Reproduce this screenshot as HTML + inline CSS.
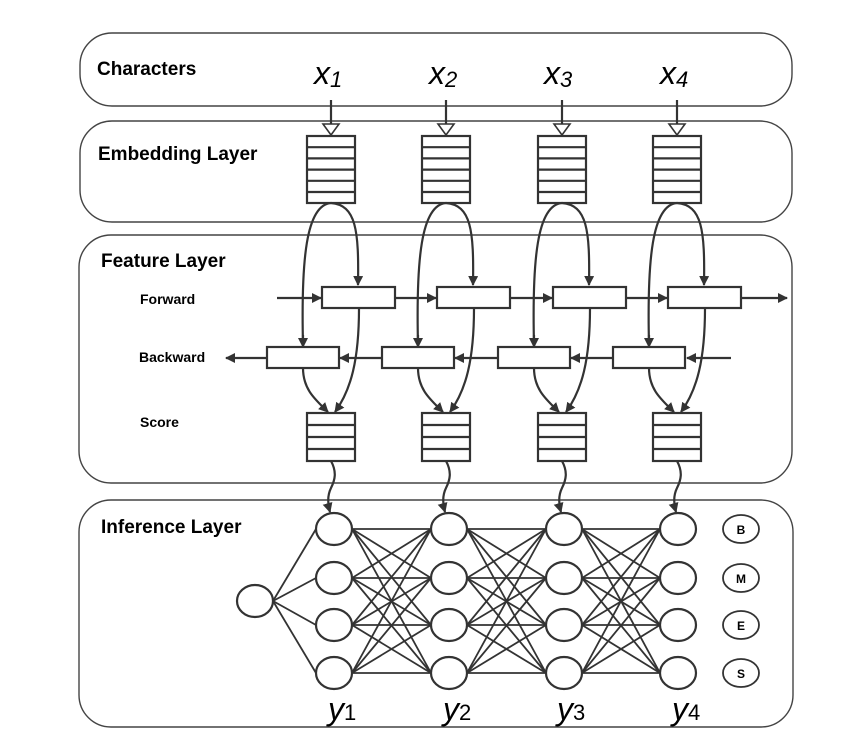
<!DOCTYPE html>
<html><head><meta charset="utf-8"><style>
html,body{margin:0;padding:0;background:#fff;}
svg{display:block;}
.t{font-family:"Liberation Sans",sans-serif;font-weight:bold;fill:#000;}
</style></head><body>
<svg id="s" width="863" height="753" viewBox="0 0 863 753" xmlns="http://www.w3.org/2000/svg">
<defs>
<marker id="a" markerWidth="10" markerHeight="10" refX="9" refY="5" orient="auto" markerUnits="userSpaceOnUse"><path d="M0,0 L10,5 L0,10 z" fill="#333"/></marker>
</defs>
<g fill="none" stroke="#444" stroke-width="1.4">
<rect x="80" y="33" width="712" height="73" rx="32"/>
<rect x="80" y="121" width="712" height="101" rx="32"/>
<rect x="79" y="235" width="713" height="248" rx="32"/>
<rect x="79" y="500" width="714" height="227" rx="32"/>
</g>
<text class="t" x="97" y="75" font-size="19">Characters</text>
<text class="t" x="98" y="160" font-size="19">Embedding Layer</text>
<text class="t" x="101" y="267" font-size="19">Feature Layer</text>
<text class="t" x="140" y="304" font-size="14">Forward</text>
<text class="t" x="139" y="362" font-size="14">Backward</text>
<text class="t" x="140" y="427" font-size="14">Score</text>
<text class="t" x="101" y="533" font-size="19">Inference Layer</text>
<g font-family="Liberation Sans,sans-serif" font-style="italic" font-size="32" fill="#000">
<text x="314" y="84">x<tspan font-size="22" dy="3">1</tspan></text>
<text x="429" y="84">x<tspan font-size="22" dy="3">2</tspan></text>
<text x="544" y="84">x<tspan font-size="22" dy="3">3</tspan></text>
<text x="660" y="84">x<tspan font-size="22" dy="3">4</tspan></text>
</g>
<g font-family="Liberation Sans,sans-serif" font-size="32" fill="#000">
<text x="328" y="720" font-style="italic">y<tspan font-style="normal" font-size="22">1</tspan></text>
<text x="443" y="720" font-style="italic">y<tspan font-style="normal" font-size="22">2</tspan></text>
<text x="557" y="720" font-style="italic">y<tspan font-style="normal" font-size="22">3</tspan></text>
<text x="672" y="720" font-style="italic">y<tspan font-style="normal" font-size="22">4</tspan></text>
</g>
<g id="g" fill="none" stroke="#333" stroke-width="2.2"></g>
<g font-family="Liberation Sans,sans-serif" font-weight="bold" font-size="12" text-anchor="middle" fill="#000">
<ellipse cx="741" cy="529" rx="18" ry="14" fill="none" stroke="#333" stroke-width="1.8"/><text x="741" y="534">B</text>
<ellipse cx="741" cy="578" rx="18" ry="14" fill="none" stroke="#333" stroke-width="1.8"/><text x="741" y="583">M</text>
<ellipse cx="741" cy="625" rx="18" ry="14" fill="none" stroke="#333" stroke-width="1.8"/><text x="741" y="630">E</text>
<ellipse cx="741" cy="673" rx="18" ry="14" fill="none" stroke="#333" stroke-width="1.8"/><text x="741" y="678">S</text>
</g>
</svg>
<script>
var h='';
var cx=[331,446,562,677];
var nx=[334,449,564,678];
var ny=[529,578,625,673];
function L(x1,y1,x2,y2,m){h+='<line x1="'+x1+'" y1="'+y1+'" x2="'+x2+'" y2="'+y2+'"'+(m?' marker-end="url(#a)"':'')+'/>';}
function P(d,m){h+='<path d="'+d+'"'+(m?' marker-end="url(#a)"':'')+'/>';}
for(var i=0;i<4;i++){
 var c=cx[i];
 L(c,100,c,126);
 h+='<path d="M'+(c-8)+',124 L'+(c+8)+',124 L'+c+',135 z" fill="#fff" stroke-width="1.6"/>';
 h+='<rect x="'+(c-24)+'" y="136" width="48" height="67" fill="#fff"/>';
 for(var k=1;k<6;k++){L(c-24,136+k*11.2,c+24,136+k*11.2);}
 P('M'+(c-28)+',345 C'+(c-30)+',260 '+(c-25)+',205 '+c+',203',false);
 h+='<line x1="'+(c-28)+'" y1="335" x2="'+(c-28)+'" y2="347" marker-end="url(#a)"/>';
 P('M'+c+',203 C'+(c+25)+',205 '+(c+28)+',230 '+(c+27)+',285',true);
 var fx=c-9;
 h+='<rect x="'+fx+'" y="287" width="73" height="21" fill="#fff"/>';
 var bx=c-64;
 h+='<rect x="'+bx+'" y="347" width="72" height="21" fill="#fff"/>';
 P('M'+(c+28)+',308 C'+(c+28)+',360 '+(c+20)+',390 '+(c+4)+',412',true);
 P('M'+(c-28)+',368 C'+(c-28)+',390 '+(c-15)+',400 '+(c-3)+',412',true);
 h+='<rect x="'+(c-24)+'" y="413" width="48" height="48" fill="#fff"/>';
 for(var k=1;k<4;k++){L(c-24,413+k*12,c+24,413+k*12);}
 P('M'+c+',461 C'+(c+6)+',472 '+(c+4)+',480 '+c+',488 C'+(c-4)+',496 '+(c-3)+',505 '+(c-1)+',512',true);
}
L(277,298,321,298,true);
for(var i=0;i<3;i++){L(cx[i]+64,298,cx[i+1]-10,298,true);}
L(cx[3]+64,298,787,298,true);
L(731,358,687,358,true);
for(var i=3;i>0;i--){L(cx[i]-64,358,cx[i-1]+9,358,true);}
L(267,358,226,358,true);
var e='';
for(var j=0;j<4;j++){e+='<line x1="273" y1="601" x2="'+(nx[0]-18)+'" y2="'+ny[j]+'"/>';}
for(var i=0;i<3;i++)for(var a=0;a<4;a++)for(var b=0;b<4;b++){
 e+='<line x1="'+(nx[i]+18)+'" y1="'+ny[a]+'" x2="'+(nx[i+1]-18)+'" y2="'+ny[b]+'"/>';}
h+='<g stroke-width="1.8">'+e+'</g>';
h+='<ellipse cx="255" cy="601" rx="18" ry="16" fill="#fff"/>';
for(var i=0;i<4;i++)for(var j=0;j<4;j++){h+='<ellipse cx="'+nx[i]+'" cy="'+ny[j]+'" rx="18" ry="16" fill="#fff"/>';}
document.getElementById('g').innerHTML=h;
</script>
</body></html>
